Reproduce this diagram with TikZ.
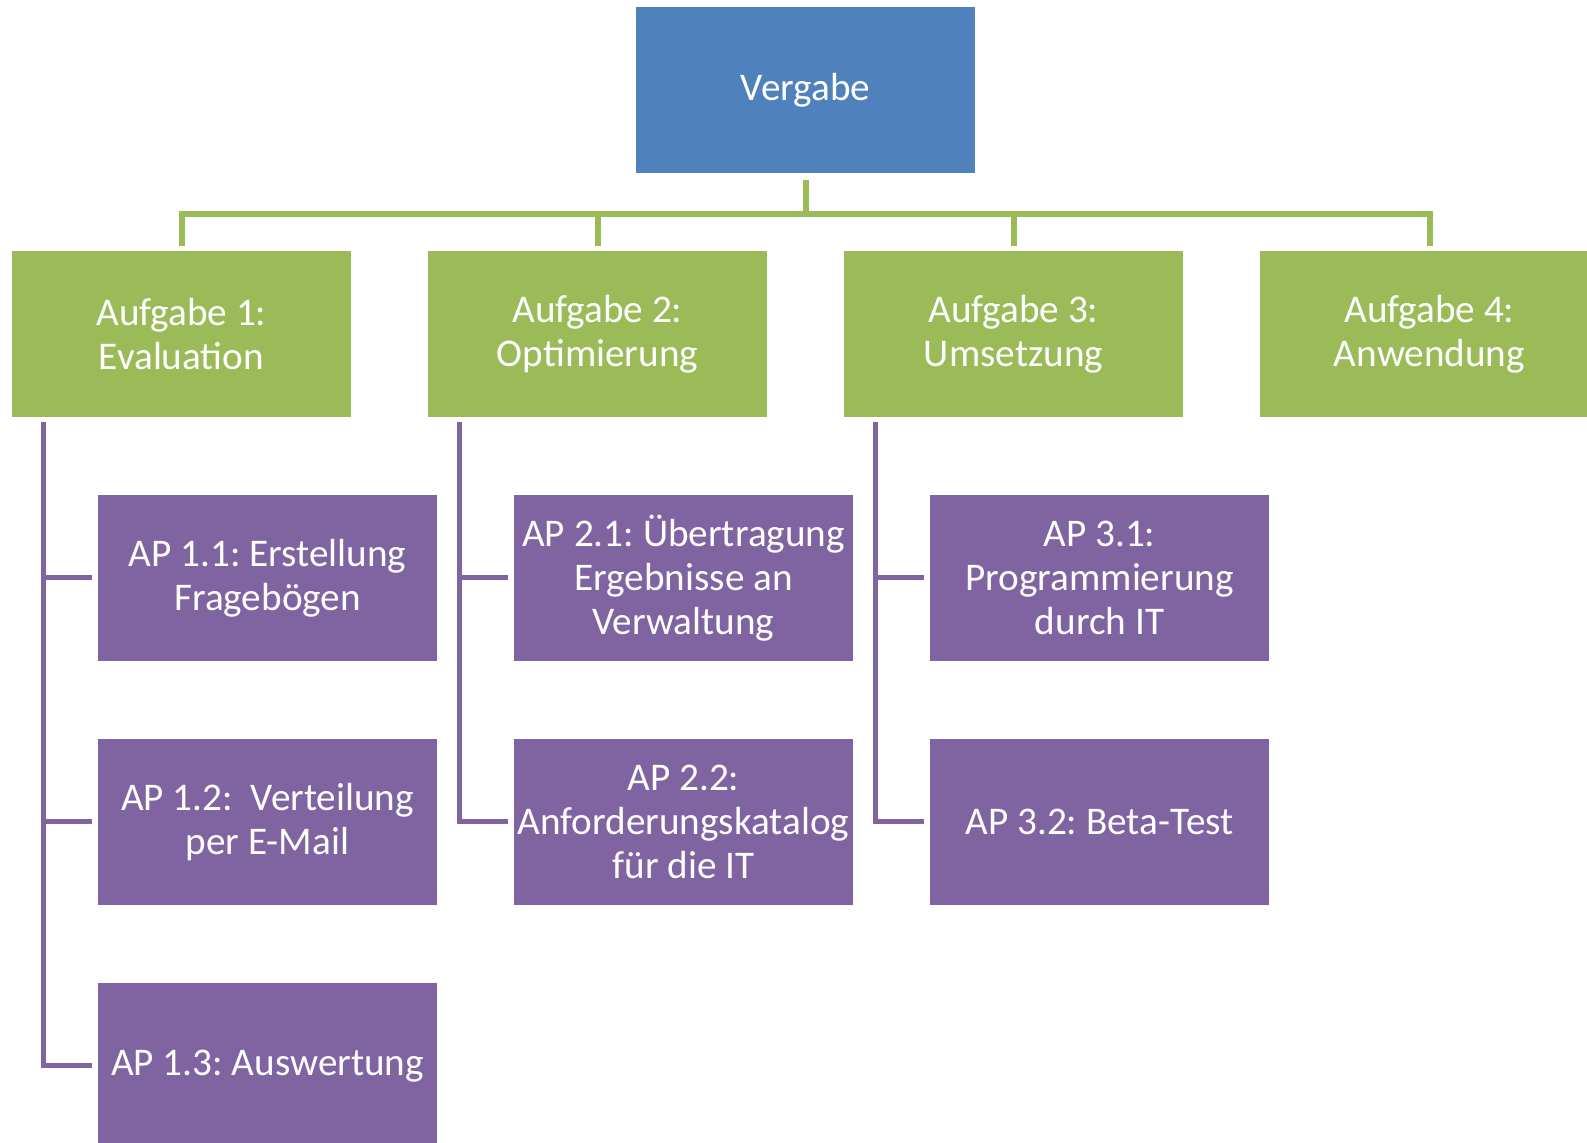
\documentclass[tikz,border=0pt]{standalone}
\usepackage{fontspec}
\setmainfont{Carlito}
\frenchspacing
\definecolor{planblue}{RGB}{79,129,189}
\definecolor{plangreen}{RGB}{155,187,89}
\definecolor{planpurple}{RGB}{128,100,162}
\begin{document}
\begin{tikzpicture}[x=0.5pt, y=-0.5pt,
    box/.style={minimum width=169.5pt, minimum height=83pt, inner sep=1pt, align=center, text=white, font=\fontsize{19.6}{22}\selectfont},
    topbox/.style={box, fill=planblue},
    taskbox/.style={box, fill=plangreen},
    apbox/.style={box, fill=planpurple},
    greenline/.style={draw=plangreen, line width=3pt},
    purpleline/.style={draw=planpurple, line width=2.5pt}]
    \useasboundingbox (0,0) rectangle (1587,1143);

    \node[topbox] (vergabe) at (805.5,90.5) {Vergabe};

    \node[taskbox] (aufg1) at (181.5,334) {Aufgabe 1:\\Evaluation};
    \node[taskbox] (aufg2) at (597.5,334) {Aufgabe 2:\\Optimierung};
    \node[taskbox] (aufg3) at (1013.5,334) {Aufgabe 3:\\Umsetzung};
    \node[taskbox] (aufg4) at (1429.5,334) {Aufgabe 4:\\Anwendung};

    \node[apbox] (ap11) at (267.5,578) {AP 1.1: Erstellung\\Fragebögen};
    \node[apbox] (ap12) at (267.5,822) {AP 1.2: \ Verteilung\\per E-Mail};
    \node[apbox] (ap13) at (267.5,1066) {AP 1.3: Auswertung};

    \node[apbox] (ap21) at (683.5,578) {AP 2.1: Übertragung\\Ergebnisse an\\Verwaltung};
    \node[apbox] (ap22) at (683.5,822) {AP 2.2:\\Anforderungskatalog\\für die IT};

    \node[apbox] (ap31) at (1099.5,578) {AP 3.1:\\Programmierung\\durch IT};
    \node[apbox] (ap32) at (1099.5,822) {AP 3.2: Beta-Test};

    % Vergabe -> Aufgaben
    \draw[greenline] ([yshift=-3pt]vergabe.south) -- ++(0,34) -| ([yshift=2.5pt]aufg1.north);
    \draw[greenline] ([yshift=-3pt]vergabe.south) -- ++(0,34) -| ([yshift=2.5pt]aufg2.north);
    \draw[greenline] ([yshift=-3pt]vergabe.south) -- ++(0,34) -| ([yshift=2.5pt]aufg3.north);
    \draw[greenline] ([yshift=-3pt]vergabe.south) -- ++(0,34) -| ([yshift=2.5pt]aufg4.north);

    % Aufgaben -> Arbeitspakete
    \draw[purpleline] ([xshift=16pt,yshift=-2.5pt]aufg1.south west) |- ([xshift=-3pt]ap11.west);
    \draw[purpleline] ([xshift=16pt,yshift=-2.5pt]aufg1.south west) |- ([xshift=-3pt]ap12.west);
    \draw[purpleline] ([xshift=16pt,yshift=-2.5pt]aufg1.south west) |- ([xshift=-3pt]ap13.west);
    \draw[purpleline] ([xshift=16pt,yshift=-2.5pt]aufg2.south west) |- ([xshift=-3pt]ap21.west);
    \draw[purpleline] ([xshift=16pt,yshift=-2.5pt]aufg2.south west) |- ([xshift=-3pt]ap22.west);
    \draw[purpleline] ([xshift=16pt,yshift=-2.5pt]aufg3.south west) |- ([xshift=-3pt]ap31.west);
    \draw[purpleline] ([xshift=16pt,yshift=-2.5pt]aufg3.south west) |- ([xshift=-3pt]ap32.west);
\end{tikzpicture}
\end{document}
